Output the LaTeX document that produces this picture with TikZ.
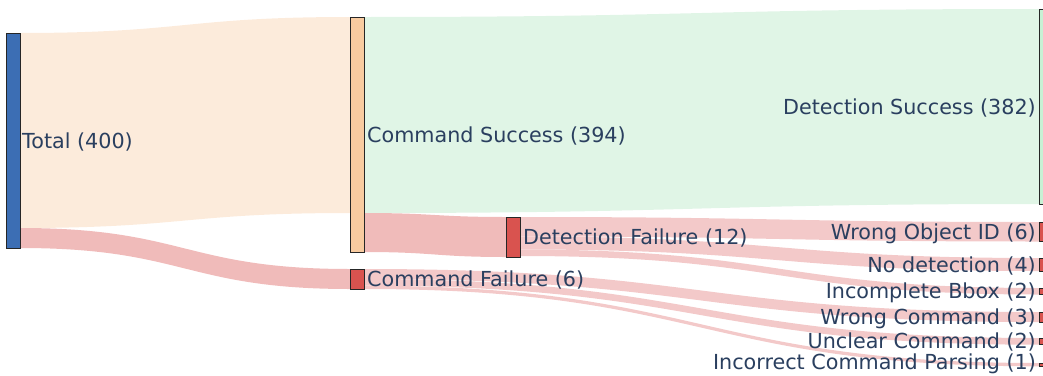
\documentclass[tikz,border=0pt]{standalone}
\usepackage{fontspec}
\setmainfont{DejaVu Sans}
\usetikzlibrary{calc}
\definecolor{cblue}{RGB}{60,110,180}
\definecolor{cpeach}{RGB}{248,203,160}
\definecolor{cred}{RGB}{217,83,79}
\definecolor{cmint}{RGB}{200,240,212}
\definecolor{lpeach}{RGB}{252,235,219}
\definecolor{lgreen}{RGB}{224,245,230}
\definecolor{lred}{RGB}{240,187,186}
\definecolor{lred2}{RGB}{243,201,201}
\definecolor{ctext}{RGB}{42,63,95}
% #1 source top point, #2 target top point, #3 source width, #4 target width, #5 colour
\newcommand{\sklink}[5]{%
  \fill[#5] let \p1=(#1), \p2=(#2), \n1={(\x1+\x2)/2} in
    (\p1) .. controls (\n1,\y1) and (\n1,\y2) .. (\p2)
    -- (\x2,{\y2-#4pt})
    .. controls (\n1,{\y2-#4pt}) and (\n1,{\y1-#3pt}) .. (\x1,{\y1-#3pt})
    -- cycle;}
\begin{document}
\begin{tikzpicture}[x=1pt,y=-1pt,
  snode/.style={draw=black!85, line width=0.8pt, minimum width=14pt, inner sep=0pt, outer sep=0pt, anchor=north west},
  lbl/.style={text=ctext, font=\fontsize{20.7}{24}\selectfont, inner sep=0pt}]
\clip (0,0) rectangle (1043,375);
% nodes (geometry only, drawn later on top of links)
\path
  node[snode, minimum height=215pt] (tot) at (6,33) {}
  node[snode, minimum height=235pt] (cs) at (350,17) {}
  node[snode, minimum height=20pt] (cf) at (350,269) {}
  node[snode, minimum height=195pt] (ds) at (1039,9) {}
  node[snode, minimum height=40pt] (df) at (506,217) {}
  node[snode, minimum height=19.5pt] (woi) at (1039,222) {}
  node[snode, minimum height=13pt] (nd) at (1039,258) {}
  node[snode, minimum height=6.5pt] (ib) at (1039,288) {}
  node[snode, minimum height=10pt] (wc) at (1039,312) {}
  node[snode, minimum height=6.7pt] (uc) at (1039,338) {}
  node[snode, minimum height=3.3pt] (icp) at (1039,363) {};
% links
\sklink{tot.north east}{cs.north west}{195}{196}{lpeach}
\sklink{[yshift=-195pt]tot.north east}{cf.north west}{20}{20}{lred}
\sklink{cs.north east}{ds.north west}{196}{195}{lgreen}
\sklink{[yshift=-196pt]cs.north east}{df.north west}{39}{40}{lred}
\sklink{df.north east}{woi.north west}{19.5}{19.5}{lred2}
\sklink{[yshift=-19.5pt]df.north east}{nd.north west}{13}{13}{lred2}
\sklink{[yshift=-32.5pt]df.north east}{ib.north west}{6.5}{6.5}{lred2}
\sklink{cf.north east}{wc.north west}{10}{10}{lred2}
\sklink{[yshift=-10pt]cf.north east}{uc.north west}{6.7}{6.7}{lred2}
\sklink{[yshift=-16.7pt]cf.north east}{icp.north west}{3.3}{3.3}{lred2}
% nodes drawn
\path
  node[snode, fill=cblue, minimum height=215pt] at (6,33) {}
  node[snode, fill=cpeach, minimum height=235pt] at (350,17) {}
  node[snode, fill=cred, minimum height=20pt] at (350,269) {}
  node[snode, fill=cmint, minimum height=195pt] at (1039,9) {}
  node[snode, fill=cred, minimum height=40pt] at (506,217) {}
  node[snode, fill=cred, minimum height=19.5pt] at (1039,222) {}
  node[snode, fill=cred, minimum height=13pt] at (1039,258) {}
  node[snode, fill=cred, minimum height=6.5pt] at (1039,288) {}
  node[snode, fill=cred, minimum height=10pt] at (1039,312) {}
  node[snode, fill=cred, minimum height=6.7pt] at (1039,338) {}
  node[snode, fill=cred, minimum height=3.3pt] at (1039,363) {};
% labels
\node[lbl, anchor=base west] (totl) at ([xshift=2pt,yshift=-7.5pt]tot.east) {Total (400)};
\node[lbl, anchor=base west] (csl) at ([xshift=3pt,yshift=-7.5pt]cs.east) {Command Success (394)};
\node[lbl, anchor=base west] (cfl) at ([xshift=3pt,yshift=-7.5pt]cf.east) {Command Failure (6)};
\node[lbl, anchor=base west] (dfl) at ([xshift=3pt,yshift=-7.5pt]df.east) {Detection Failure (12)};
\node[lbl, anchor=base east] (dsl) at ([xshift=-3pt,yshift=-7.5pt]ds.west) {Detection Success (382)};
\node[lbl, anchor=base east] (woil) at ([xshift=-3pt,yshift=-7.5pt]woi.west) {Wrong Object ID (6)};
\node[lbl, anchor=base east] (ndl) at ([xshift=-3pt,yshift=-7.5pt]nd.west) {No detection (4)};
\node[lbl, anchor=base east] (ibl) at ([xshift=-3pt,yshift=-7.5pt]ib.west) {Incomplete Bbox (2)};
\node[lbl, anchor=base east] (wcl) at ([xshift=-3pt,yshift=-7.5pt]wc.west) {Wrong Command (3)};
\node[lbl, anchor=base east] (ucl) at ([xshift=-3pt,yshift=-7.5pt]uc.west) {Unclear Command (2)};
\node[lbl, anchor=base east] (icpl) at ([xshift=-3pt,yshift=-5pt]icp.west) {Incorrect Command Parsing (1)};
\end{tikzpicture}
\end{document}
